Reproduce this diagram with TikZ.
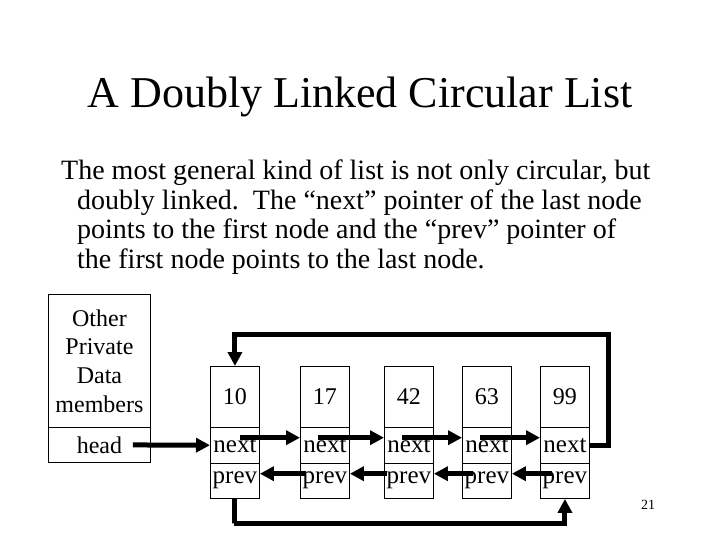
\documentclass[tikz,border=0pt]{standalone}
\usepackage{fontspec}
\setmainfont{Liberation Serif}
\usetikzlibrary{arrows.meta}
\begin{document}
\begin{tikzpicture}[x=1pt,y=-1pt,
  cell/.style={draw=black,line width=0.9pt,inner sep=0pt,minimum width=49pt,anchor=north west,font=\fontsize{24}{28}\selectfont},
  valcell/.style={cell,minimum height=61pt},
  ptrcell/.style={cell,minimum height=35.5pt,font=\fontsize{25}{28}\selectfont},
  thick arrow/.style={line width=5pt,-{Triangle[length=14pt,width=14pt]}},
  body/.style={anchor=base west,inner sep=0pt,font=\fontsize{28}{33}\selectfont}]
\useasboundingbox (0,0) rectangle (720,540);
\fill[white] (0,0) rectangle (720,540);
% title
\node[anchor=base,inner sep=0pt,font=\fontsize{44}{52}\selectfont] (title) at (360,108) {A Doubly Linked Circular List};
% body text
\node[body] (l1) at (61,180) {The most general kind of list is not only circular, but};
\node[body] (l2) at (77,210) {doubly linked.\ \ The “next” pointer of the last node};
\node[body] (l3) at (77,239) {points to the first node and the “prev” pointer of};
\node[body] (l4) at (77,268) {the first node points to the last node.};
% left box
\node[cell,minimum width=102pt,minimum height=133pt,align=center,font=\fontsize{24}{28.7}\selectfont] (d) at (48,294) {Other\\Private\\Data\\members};
\node[cell,minimum width=102pt,minimum height=35pt] (h) at (48,427) {head};
% list nodes
\foreach \x/\v/\i in {210/10/1,300/17/2,384/42/3,462/63/4,540/99/5}{
  \node[valcell] (v\i) at (\x,366) {\v};
  \node[ptrcell] (n\i) at (\x,427) {next};
  \node[ptrcell] (p\i) at (\x,462.5) {prev};
}
% head arrow
\draw[thick arrow] ([xshift=-18pt]h.east) -- (n1.west);
% next arrows
\draw[thick arrow] ([xshift=30pt,yshift=7.5pt]n1.west) -- ([yshift=7.5pt]n2.west);
\draw[thick arrow] ([xshift=18pt,yshift=7.5pt]n2.west) -- ([yshift=7.5pt]n3.west);
\draw[thick arrow] ([xshift=18pt,yshift=7.5pt]n3.west) -- ([yshift=7.5pt]n4.west);
\draw[thick arrow] ([xshift=18pt,yshift=7.5pt]n4.west) -- ([yshift=7.5pt]n5.west);
% prev arrows
\draw[thick arrow] ([xshift=6pt,yshift=7pt]p2.west) -- ([yshift=7pt]p1.east);
\draw[thick arrow] ([xshift=3pt,yshift=7pt]p3.west) -- ([yshift=7pt]p2.east);
\draw[thick arrow] ([xshift=11pt,yshift=7pt]p4.west) -- ([yshift=7pt]p3.east);
\draw[thick arrow] ([xshift=12pt,yshift=7pt]p5.west) -- ([yshift=7pt]p4.east);
% circular links
\coordinate (tr) at (608,334);
\coordinate (bl) at (234,523);
\draw[thick arrow,line join=miter] (n5.east) -| (tr) -| (v1.north);
\draw[thick arrow,line join=miter] (p1.south) |- (bl) -| (p5.south);
% slide number
\node[anchor=base,inner sep=0pt,font=\fontsize{14}{16}\selectfont] (num) at (648,509) {21};
\end{tikzpicture}
\end{document}
